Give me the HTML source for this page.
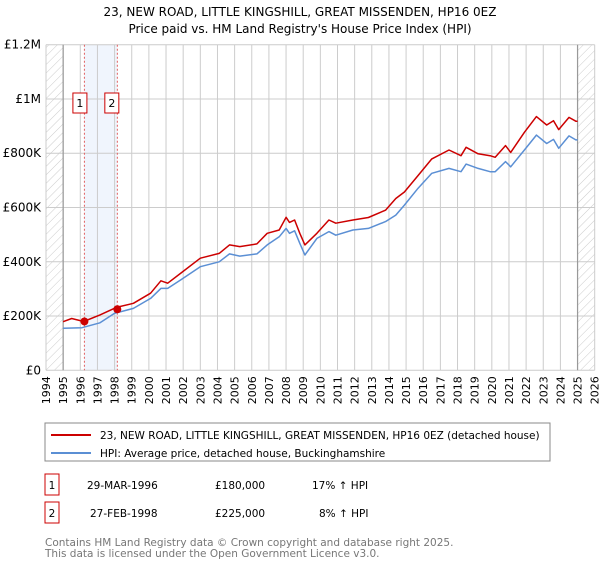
<!DOCTYPE html>
<html><head><meta charset="utf-8"><style>
body{margin:0;background:#fff;font-family:"DejaVu Sans","Liberation Sans",sans-serif;}
svg text{font-family:"DejaVu Sans","Liberation Sans",sans-serif;}
</style></head><body>
<svg id="c" width="600" height="560" xmlns="http://www.w3.org/2000/svg">
<defs><pattern id="hatch" width="6" height="6" patternUnits="userSpaceOnUse" patternTransform="rotate(45)"><line x1="0" y1="0" x2="0" y2="6" stroke="#ccc" stroke-width="1"/></pattern></defs>
<text x="300" y="16" text-anchor="middle" font-size="12">23, NEW ROAD, LITTLE KINGSHILL, GREAT MISSENDEN, HP16 0EZ</text>
<text x="300" y="33" text-anchor="middle" font-size="12">Price paid vs. HM Land Registry's House Price Index (HPI)</text>
<g id="plot"></g>
<rect x="45" y="423" width="505" height="38" fill="#fff" stroke="#888"/>
<line x1="51" y1="435" x2="91" y2="435" stroke="#cc0000" stroke-width="2"/>
<text x="100" y="439" font-size="10.5">23, NEW ROAD, LITTLE KINGSHILL, GREAT MISSENDEN, HP16 0EZ (detached house)</text>
<line x1="51" y1="453" x2="91" y2="453" stroke="#5b8fd4" stroke-width="2"/>
<text x="100" y="457" font-size="10.5">HPI: Average price, detached house, Buckinghamshire</text>
<g font-size="10.5">
<rect x="45" y="474" width="14" height="21" fill="#fff" stroke="#cc0000"/>
<text x="52" y="489" text-anchor="middle">1</text>
<text x="87" y="489">29-MAR-1996</text>
<text x="215" y="489">£180,000</text>
<text x="312" y="489">17% ↑ HPI</text>
<rect x="45" y="502" width="14" height="21" fill="#fff" stroke="#cc0000"/>
<text x="52" y="517" text-anchor="middle">2</text>
<text x="90" y="517">27-FEB-1998</text>
<text x="215" y="517">£225,000</text>
<text x="319" y="517">8% ↑ HPI</text>
</g>
<text x="45" y="546" font-size="10.5" fill="#777">Contains HM Land Registry data © Crown copyright and database right 2025.</text>
<text x="45" y="557" font-size="10.5" fill="#777">This data is licensed under the Open Government Licence v3.0.</text>
</svg>
<script>
const yTicks=[0,200000,400000,600000,800000,1000000,1200000];
const yTickLabels=["£0","£200K","£400K","£600K","£800K","£1M","£1.2M"];
const xYears=[1994,1995,1996,1997,1998,1999,2000,2001,2002,2003,2004,2005,2006,2007,2008,2009,2010,2011,2012,2013,2014,2015,2016,2017,2018,2019,2020,2021,2022,2023,2024,2025,2026];
const hpiDates=[1995,1996.1,1997.15,1998.0,1999.1,2000.1,2000.7,2001.1,2001.9,2003,2004.1,2004.7,2005.3,2006.3,2006.9,2007.6,2008.0,2008.2,2008.5,2008.8,2009.1,2009.8,2010.5,2010.9,2011.9,2012.8,2013.8,2014.4,2014.9,2015.7,2016.5,2017.5,2018.2,2018.5,2019.2,2019.9,2020.2,2020.8,2021.1,2021.9,2022.6,2023.2,2023.6,2023.9,2024.5,2024.9,2025.0];
const hpiValues=[155000,157000,175000,210000,228000,265000,302000,302000,335000,382000,400000,429000,421000,429000,462000,492000,523000,505000,514000,468000,425000,486000,511000,498000,517000,523000,548000,572000,609000,671000,726000,744000,732000,760000,744000,732000,732000,769000,750000,812000,867000,836000,851000,818000,864000,849000,849000];
const propDates=[1995,1995.5,1996.2,1997.15,1998.1,1999.1,2000.1,2000.7,2001.1,2001.9,2003,2004.1,2004.7,2005.3,2006.3,2006.9,2007.6,2008.0,2008.2,2008.5,2008.8,2009.1,2009.8,2010.5,2010.9,2011.9,2012.8,2013.8,2014.4,2014.9,2015.7,2016.5,2017.5,2018.2,2018.5,2019.2,2019.9,2020.2,2020.8,2021.1,2021.9,2022.6,2023.2,2023.6,2023.9,2024.5,2024.9,2025.0];
const propValues=[179000,191000,180000,204000,232000,247000,284000,330000,321000,360000,413000,431000,462000,456000,466000,505000,517000,564000,545000,554000,505000,462000,505000,554000,542000,554000,563000,590000,633000,657000,718000,779000,812000,791000,822000,798000,791000,785000,828000,803000,877000,935000,904000,920000,887000,932000,918000,918000];
const saleDates=[1996.24,1998.16];
const salePrices=[180000,225000];
const saleLabels=["1","2"];

const X0=46,X1=594.7,Y0=370.3,Y1=44.7;
const xs=y=>X0+(y-1994)/(2026-1994)*(X1-X0);
const ys=v=>Y0-v/1200000*(Y0-Y1);
const NS="http://www.w3.org/2000/svg";
const g=document.getElementById('plot');
function mk(t,a){const e=document.createElementNS(NS,t);for(const k in a)e.setAttribute(k,a[k]);g.appendChild(e);return e;}
let e;
e=mk('rect',{x:xs(1994),y:Y1,width:xs(1995)-xs(1994),height:Y0-Y1,fill:'url(#hatch)'});


e=mk('rect',{x:xs(2025),y:Y1,width:xs(2026)-xs(2025),height:Y0-Y1,fill:'url(#hatch)'});


e=mk('rect',{x:xs(saleDates[0]),y:Y1,width:xs(saleDates[1])-xs(saleDates[0]),height:Y0-Y1,fill:'#f0f5fd'});


xYears.forEach(yr=>{
  e=mk('line',{x1:xs(yr),x2:xs(yr),y1:Y1,y2:Y0,stroke:'#ccc','stroke-width':1});
  
  
  e=mk('text',{x:0,y:0,'font-size':11,'text-anchor':'end',transform:`translate(${xs(yr)+4},${Y0+6}) rotate(-90)`});
  e.textContent=yr;
  
  
});
yTicks.forEach((v,i)=>{
  e=mk('line',{x1:X0,x2:X1,y1:ys(v),y2:ys(v),stroke:'#ccc','stroke-width':1});
  
  
  e=mk('text',{x:41,y:ys(v)+4,'font-size':12,'text-anchor':'end'});
  e.textContent=yTickLabels[i];
  
  
});
[1995,2025].forEach(yr=>{
  e=mk('line',{x1:xs(yr),x2:xs(yr),y1:Y1,y2:Y0,stroke:'#999','stroke-width':1.2});
  
  
});
saleDates.forEach((d,i)=>{
  e=mk('line',{x1:xs(d),x2:xs(d),y1:Y1,y2:Y0,stroke:'#e06060','stroke-width':1,'stroke-dasharray':'2,2'});
  
  
});
function path(ds,vs,col,name){
  const p=ds.map((d,i)=>(i?'L':'M')+xs(d).toFixed(1)+','+ys(vs[i]).toFixed(1)).join('');
  e=mk('path',{d:p,fill:'none',stroke:col,'stroke-width':1.5,'stroke-linejoin':'round'});
  
  
}
path(hpiDates,hpiValues,'#5b8fd4','hpi-line');
path(propDates,propValues,'#cc0000','property-line');
saleDates.forEach((d,i)=>{
  e=mk('circle',{cx:xs(d),cy:ys(salePrices[i]),r:4,fill:'#cc0000'});
  
  
  const bx=xs(d)-(i?5.5:4.5);
  e=mk('rect',{x:bx-7,y:93,width:14,height:20,fill:'#fff',stroke:'#cc0000'});
  
  
  e=mk('text',{x:bx,y:107,'font-size':11,'text-anchor':'middle'});
  e.textContent=saleLabels[i];
  
  
});
</script>
</body></html>
